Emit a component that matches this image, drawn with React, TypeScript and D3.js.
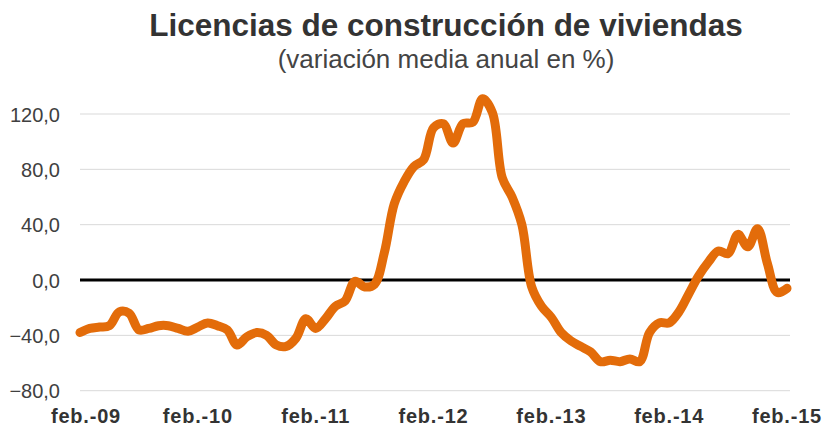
import React, { useEffect, useRef } from "react";
import * as d3 from "d3";

// monthly values, feb-09 .. feb-15 (variación media anual, %)
const values = [
  -38, -35, -34, -33, -23, -24, -36, -35, -33, -33, -35, -37,
  -34, -31, -33, -36, -47, -41, -38, -40, -47, -48, -42, -28,
  -35, -28, -19, -15, -1, -5, -3, 20, 55, 71, 82, 87,
  110, 113, 99, 113, 114, 131, 121, 74, 60, 40, -5, -19,
  -27, -38, -44, -48, -52, -59, -58, -59, -57, -59, -38, -31,
  -31, -23, -10, 3, 13, 21, 19, 33, 24, 37, 12, -9,
  -6,
];
const xLabels = ["feb.-09", "feb.-10", "feb.-11", "feb.-12", "feb.-13", "feb.-14", "feb.-15"];
const yTicks = [-80, -40, 0, 40, 80, 120];

const App = () => {
  const svgRef = useRef<SVGSVGElement>(null);

  useEffect(() => {
    const w = 822;
    const h = 427;
    const svg = d3.select(svgRef.current).attr("width", w).attr("height", h);
    svg.selectAll("*").remove();

    const font = "'Liberation Sans', Arial, sans-serif";

    const x = d3.scaleLinear().domain([0, values.length - 1]).range([80, 787]);
    const y = d3.scaleLinear().domain([-80, 120]).range([390.7, 114]);

    // title
    svg
      .append("text")
      .attr("x", 446)
      .attr("y", 36)
      .attr("text-anchor", "middle")
      .style("font-family", font)
      .style("font-weight", "bold")
      .style("font-size", "31.5px")
      .attr("fill", "#333")
      .text("Licencias de construcción de viviendas");

    svg
      .append("text")
      .attr("x", 446)
      .attr("y", 68)
      .attr("text-anchor", "middle")
      .style("font-family", font)
      .style("font-size", "26px")
      .attr("fill", "#444")
      .text("(variación media anual en %)");

    // gridlines
    svg
      .append("g")
      .selectAll("line")
      .data(yTicks.filter((d) => d !== 0))
      .join("line")
      .attr("x1", 80)
      .attr("x2", 790)
      .attr("y1", (d) => y(d))
      .attr("y2", (d) => y(d))
      .attr("stroke", "#d9d9d9")
      .attr("stroke-width", 1);

    // y labels
    svg
      .append("g")
      .selectAll("text")
      .data(yTicks)
      .join("text")
      .attr("x", 60)
      .attr("y", (d) => y(d) + 7.5)
      .attr("text-anchor", "end")
      .style("font-family", font)
      .style("font-size", "20px")
      .attr("fill", "#404040")
      .text((d) => d3.format(".1f")(d).replace(".", ","));

    // zero line
    svg
      .append("line")
      .attr("x1", 80)
      .attr("x2", 790)
      .attr("y1", y(0))
      .attr("y2", y(0))
      .attr("stroke", "#000")
      .attr("stroke-width", 3);

    // x labels
    svg
      .append("g")
      .selectAll("text")
      .data(xLabels)
      .join("text")
      .attr("x", (d, i) => x(i * 12) + (i === 0 ? 6 : 0))
      .attr("y", 423)
      .attr("text-anchor", "middle")
      .style("font-family", font)
      .style("font-weight", "bold")
      .style("font-size", "20px")
      .style("letter-spacing", "0.8px")
      .attr("fill", "#333")
      .text((d) => d);

    // series
    const line = d3
      .line<number>()
      .x((d, i) => x(i))
      .y((d) => y(d))
      .curve(d3.curveCatmullRom);

    svg
      .append("path")
      .datum(values)
      .attr("d", line)
      .attr("fill", "none")
      .attr("stroke", "#E36C0A")
      .attr("stroke-width", 9)
      .attr("stroke-linejoin", "round")
      .attr("stroke-linecap", "round");
  }, []);

  return (
    <div style={{ position: "absolute", left: 0, top: 0 }}>
      <svg ref={svgRef}></svg>
    </div>
  );
};

export default App;
